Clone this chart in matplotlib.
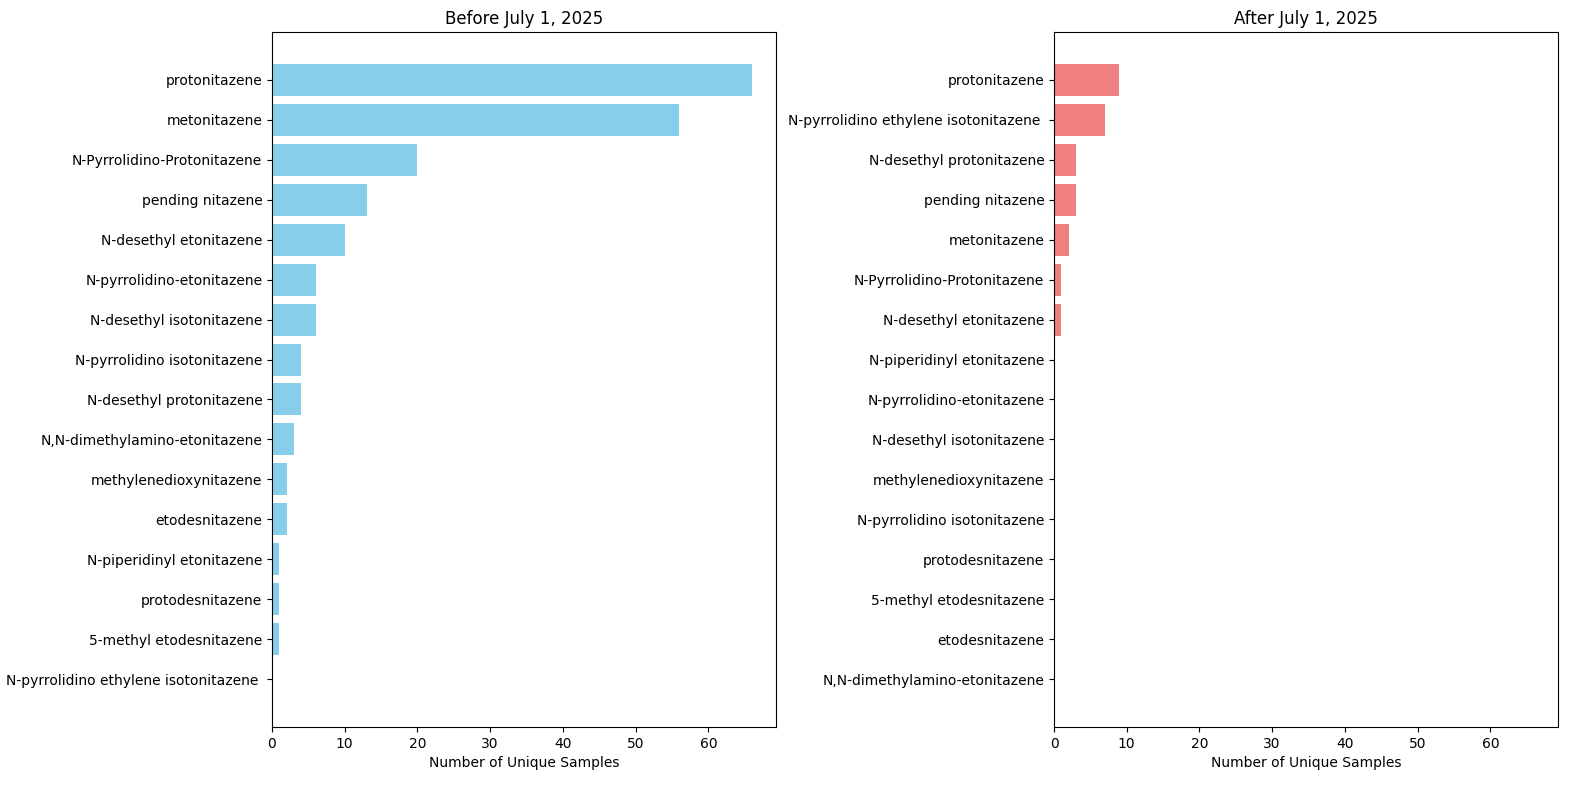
import matplotlib
matplotlib.use("Agg")
import matplotlib.pyplot as plt

before_labels = ["protonitazene", "metonitazene", "N-Pyrrolidino-Protonitazene", "pending nitazene",
                 "N-desethyl etonitazene", "N-pyrrolidino-etonitazene", "N-desethyl isotonitazene",
                 "N-pyrrolidino isotonitazene", "N-desethyl protonitazene", "N,N-dimethylamino-etonitazene",
                 "methylenedioxynitazene", "etodesnitazene", "N-piperidinyl etonitazene", "protodesnitazene",
                 "5-methyl etodesnitazene", "N-pyrrolidino ethylene isotonitazene "]
before_values = [66, 56, 20, 13, 10, 6, 6, 4, 4, 3, 2, 2, 1, 1, 1, 0]

after_labels = ["protonitazene", "N-pyrrolidino ethylene isotonitazene ", "N-desethyl protonitazene",
                "pending nitazene", "metonitazene", "N-Pyrrolidino-Protonitazene", "N-desethyl etonitazene",
                "N-piperidinyl etonitazene", "N-pyrrolidino-etonitazene", "N-desethyl isotonitazene",
                "methylenedioxynitazene", "N-pyrrolidino isotonitazene", "protodesnitazene",
                "5-methyl etodesnitazene", "etodesnitazene", "N,N-dimethylamino-etonitazene"]
after_values = [9, 7, 3, 3, 2, 1, 1, 0, 0, 0, 0, 0, 0, 0, 0, 0]

fig, (ax1, ax2) = plt.subplots(1, 2, figsize=(15.9, 7.9), dpi=100, sharex=True)
fig.subplots_adjust(left=272/1590, right=1558/1590, top=1-32/790, bottom=1-727/790, wspace=278/504)

ax1.barh(before_labels, before_values, color="skyblue")
ax1.invert_yaxis()
ax1.set_title("Before July 1, 2025")
ax1.set_xlabel("Number of Unique Samples")

ax2.barh(after_labels, after_values, color="lightcoral")
ax2.invert_yaxis()
ax2.set_title("After July 1, 2025")
ax2.set_xlabel("Number of Unique Samples")

fig.savefig("out.png", dpi=100)
